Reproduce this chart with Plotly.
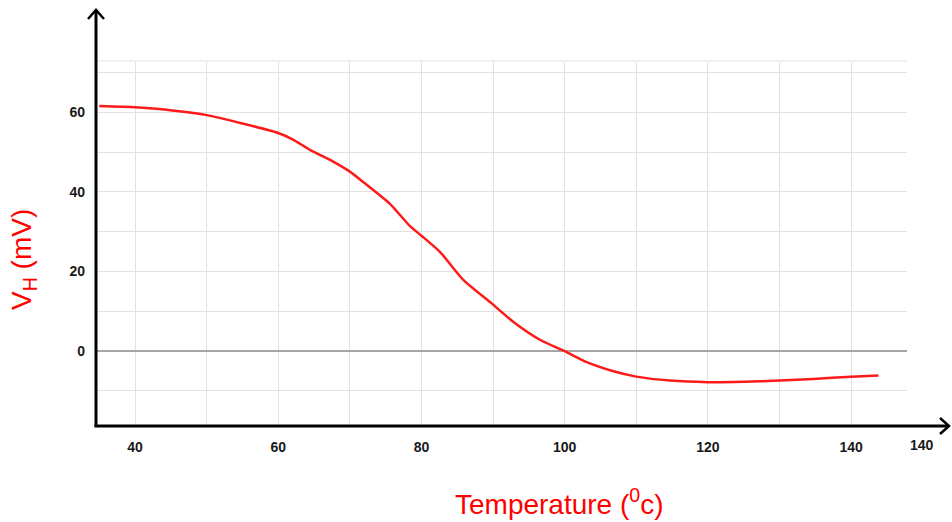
import plotly.graph_objects as go

# Data
temperature = [35, 40, 43, 50, 55, 60, 62, 64.5, 67.3, 70, 72, 75.6, 78.4, 80, 82.6,
               85.8, 89.8, 92.8, 96.6, 100, 103, 106.7, 110, 114.7, 120, 125, 130,
               134.7, 140, 143.8]
vh_mv = [61.6, 61.3, 60.9, 59.3, 57.2, 54.8, 53.2, 50.5, 48.0, 45.1, 42.3, 37.0, 31.4,
         29.0, 24.9, 18.0, 12.0, 7.4, 2.8, 0.0, -2.7, -5.0, -6.4, -7.4, -7.8, -7.7,
         -7.4, -7.0, -6.4, -6.1]

x_tickvals = [40, 60, 80, 100, 120, 140]
x_ticktext = ["40", "60", "80", "100", "120", "140"]
x_gridvals = [50, 70, 90, 110, 130]
y_tickvals = [0, 20, 40, 60]
y_ticktext = ["0", "20", "40", "60"]
y_gridvals = [-10, 10, 30, 50, 70]

W, H = 952, 522
L, R, T, B = 96, 45, 61, 96
pw, ph = W - L - R, H - T - B


def px(xp):
    return (xp - L) / pw


def py(yp):
    return (H - B - yp) / ph


fig = go.Figure()
fig.add_trace(go.Scatter(
    x=temperature, y=vh_mv, mode="lines",
    line=dict(color="#ff1a1a", width=2.5, shape="spline", smoothing=0.6),
    hoverinfo="skip", showlegend=False))

tickfont = dict(family="Liberation Sans, Arial, sans-serif", size=14, color="#1a1a1a",
                weight="bold")
GRID = "#e2e2e2"

fig.update_layout(
    width=W, height=H,
    margin=dict(l=L, r=R, t=T, b=B),
    paper_bgcolor="white", plot_bgcolor="white",
    xaxis=dict(range=[34.55, 147.8], tickvals=x_tickvals, ticktext=x_ticktext,
               showgrid=True, gridcolor=GRID, gridwidth=1.2,
               minor=dict(tickvals=x_gridvals, showgrid=True, gridcolor=GRID,
                          gridwidth=1.2, ticks=""),
               zeroline=False, showline=False, ticks="", ticklabelstandoff=11,
               tickfont=tickfont),
    yaxis=dict(range=[-18.8, 72.9], tickvals=y_tickvals, ticktext=y_ticktext,
               showgrid=True, gridcolor=GRID, gridwidth=1.2,
               minor=dict(tickvals=y_gridvals, showgrid=True, gridcolor=GRID,
                          gridwidth=1.2, ticks=""),
               zeroline=True, zerolinecolor="#a6a6a6", zerolinewidth=2,
               showline=False, ticks="", ticklabelstandoff=10,
               tickfont=tickfont),
    font=dict(family="Liberation Sans, Arial, sans-serif"),
)

shapes = []
# faint top border of grid
shapes.append(dict(type="line", xref="paper", yref="paper", x0=0, x1=1, y0=1, y1=1,
                   line=dict(color="#ececec", width=1.5), layer="below"))
# y axis with arrow
shapes.append(dict(type="line", xref="paper", yref="paper", x0=px(96), x1=px(96),
                   y0=py(427), y1=py(11), line=dict(color="black", width=3)))
shapes.append(dict(type="path", xref="paper", yref="paper",
                   path=f"M {px(88)} {py(19)} L {px(96)} {py(10)} L {px(104)} {py(19)}",
                   line=dict(color="black", width=2.5)))
# x axis with arrow
shapes.append(dict(type="line", xref="paper", yref="paper", x0=px(94.5), x1=px(948),
                   y0=py(426), y1=py(426), line=dict(color="black", width=3)))
shapes.append(dict(type="path", xref="paper", yref="paper",
                   path=f"M {px(940)} {py(418)} L {px(949)} {py(426)} L {px(940)} {py(434)}",
                   line=dict(color="black", width=2.5)))
fig.update_layout(shapes=shapes)

fig.add_annotation(text="140", xref="paper", yref="paper", x=px(922), y=py(445),
                   showarrow=False, font=tickfont, xanchor="center", yanchor="middle")
fig.add_annotation(text="Temperature (<sup>0</sup>c)", xref="paper", yref="paper",
                   x=px(559), y=py(502), showarrow=False,
                   font=dict(family="Liberation Sans, Arial, sans-serif", size=28,
                             color="#ff0000"),
                   xanchor="center", yanchor="middle")
fig.add_annotation(text="V<sub>H</sub> (mV)", xref="paper", yref="paper",
                   x=px(23), y=py(260), showarrow=False, textangle=-90,
                   font=dict(family="Liberation Sans, Arial, sans-serif", size=28,
                             color="#ff0000"),
                   xanchor="center", yanchor="middle")

fig.write_html("out.html")
